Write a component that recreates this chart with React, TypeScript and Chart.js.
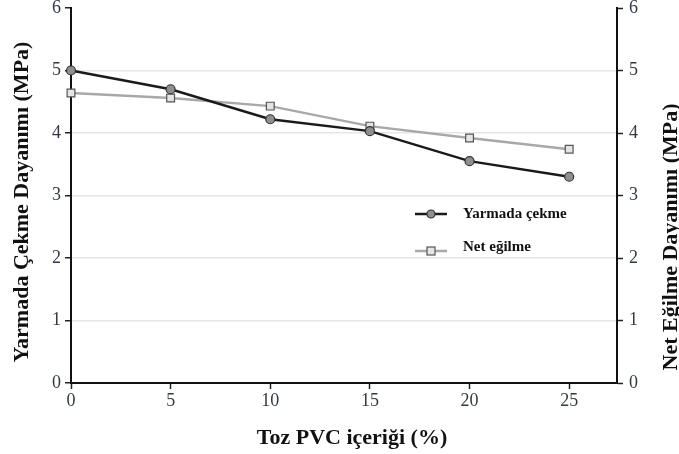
import React, { useEffect, useRef } from 'react';
import { Chart, registerables } from 'chart.js';
Chart.register(...registerables);

const pvcContent = [0, 5, 10, 15, 20, 25];
const splitTensile = [5.0, 4.7, 4.22, 4.03, 3.55, 3.3];
const flexural = [4.64, 4.56, 4.43, 4.11, 3.92, 3.74];
const xTicks = [0, 5, 10, 15, 20, 25];
const yMin = 0;
const yMax = 6;
const xMax = 27.4;
const seriesNames = ['Yarmada çekme', 'Net eğilme'];
const xTitle = 'Toz PVC içeriği (%)';
const yLeftTitle = 'Yarmada Çekme Dayanımı (MPa)';
const yRightTitle = 'Net Eğilme Dayanımı (MPa)';

const SERIF = "'Liberation Serif', 'Times New Roman', serif";
const TICK_COLOR = '#333a44';

const c1 = { line: '#1a1a1a', fill: '#8f8f8f', border: '#333333' };
const c2 = { line: '#a8a8a8', fill: '#e4e4e4', border: '#555555' };

const overlayPlugin = {
  id: 'overlay',
  afterDraw(chart: any) {
    const ctx = chart.ctx as CanvasRenderingContext2D;
    const area = chart.chartArea;
    ctx.save();
    ctx.fillStyle = '#111';
    ctx.font = `bold 22px ${SERIF}`;
    ctx.textAlign = 'center';
    ctx.textBaseline = 'middle';
    ctx.fillText(xTitle, 352, 438);
    ctx.save();
    ctx.translate(22, 202);
    ctx.rotate(-Math.PI / 2);
    ctx.fillText(yLeftTitle, 0, 0);
    ctx.restore();
    ctx.save();
    ctx.translate(671, 237);
    ctx.rotate(-Math.PI / 2);
    ctx.fillText(yRightTitle, 0, 0);
    ctx.restore();

    const lx = area.left + 344;
    const rows = [
      { y: 214, ty: 214, c: c1, shape: 'circle', name: seriesNames[0] },
      { y: 251, ty: 247, c: c2, shape: 'rect', name: seriesNames[1] },
    ];
    ctx.font = `bold 15px ${SERIF}`;
    ctx.textAlign = 'left';
    for (const r of rows) {
      ctx.strokeStyle = r.c.line;
      ctx.lineWidth = 2.5;
      ctx.beginPath();
      ctx.moveTo(lx, r.y);
      ctx.lineTo(lx + 32, r.y);
      ctx.stroke();
      ctx.fillStyle = r.c.fill;
      ctx.strokeStyle = r.c.border;
      ctx.lineWidth = 1.2;
      if (r.shape === 'circle') {
        ctx.beginPath();
        ctx.arc(lx + 16, r.y, 4, 0, Math.PI * 2);
        ctx.fill();
        ctx.stroke();
      } else {
        ctx.fillRect(lx + 12, r.y - 4, 8, 8);
        ctx.strokeRect(lx + 12, r.y - 4, 8, 8);
      }
      ctx.fillStyle = '#111';
      ctx.fillText(r.name, lx + 48, r.ty);
    }
    ctx.restore();
  },
};

const zeroPad = (s: any) => {
  s.paddingTop = 0;
  s.paddingBottom = 0;
  s.paddingLeft = 0;
  s.paddingRight = 0;
};

export default function App() {
  const ref = useRef<HTMLCanvasElement>(null);
  useEffect(() => {
    if (!ref.current) return;
    const gridColor = (c: any) =>
      c.tick && (c.tick.value === yMin || c.tick.value === yMax) ? 'rgba(0,0,0,0)' : '#e6e6e6';
    const chart = new Chart(ref.current, {
      type: 'line',
      data: {
        datasets: [
          {
            label: seriesNames[0],
            data: pvcContent.map((x, i) => ({ x, y: splitTensile[i] })),
            yAxisID: 'y',
            borderColor: c1.line,
            borderWidth: 2.5,
            backgroundColor: c1.fill,
            pointBackgroundColor: c1.fill,
            pointBorderColor: c1.border,
            pointBorderWidth: 1.2,
            pointRadius: 4.5,
            pointStyle: 'circle',
            tension: 0,
            clip: false,
          },
          {
            label: seriesNames[1],
            data: pvcContent.map((x, i) => ({ x, y: flexural[i] })),
            yAxisID: 'y1',
            borderColor: c2.line,
            borderWidth: 2.5,
            backgroundColor: c2.fill,
            pointBackgroundColor: c2.fill,
            pointBorderColor: c2.border,
            pointBorderWidth: 1.2,
            pointRadius: 5.5,
            pointStyle: 'rect',
            tension: 0,
            clip: false,
          },
        ],
      },
      options: {
        animation: false,
        responsive: true,
        maintainAspectRatio: false,
        layout: { padding: { top: 8, left: 0, right: 0, bottom: 0 } },
        plugins: { legend: { display: false }, tooltip: { enabled: false } },
        scales: {
          x: {
            type: 'linear',
            min: 0,
            max: xMax,
            afterBuildTicks: (s: any) => {
              s.ticks = xTicks.map((v) => ({ value: v }));
            },
            afterFit: (s: any) => {
              s.height = 71;
              zeroPad(s);
            },
            grid: { drawOnChartArea: false, tickColor: '#222', tickLength: 6, tickWidth: 1.5 },
            border: { color: '#111', width: 2 },
            ticks: { color: TICK_COLOR, font: { family: SERIF, size: 18 }, padding: 1, maxRotation: 0 },
          },
          y: {
            type: 'linear',
            position: 'left',
            min: yMin,
            max: yMax,
            afterFit: (s: any) => {
              s.width = 71;
              zeroPad(s);
            },
            grid: { color: gridColor, lineWidth: 1.5, tickColor: '#222', tickLength: 6, tickWidth: 1.5 },
            border: { color: '#111', width: 2 },
            ticks: { stepSize: 1, color: TICK_COLOR, font: { family: SERIF, size: 18 }, padding: 4 },
          },
          y1: {
            type: 'linear',
            position: 'right',
            min: yMin,
            max: yMax,
            afterFit: (s: any) => {
              s.width = 62;
              zeroPad(s);
            },
            grid: { drawOnChartArea: false, tickColor: '#222', tickLength: 6, tickWidth: 1.5 },
            border: { color: '#111', width: 2 },
            ticks: { stepSize: 1, color: TICK_COLOR, font: { family: SERIF, size: 18 }, padding: 6 },
          },
        },
      },
      plugins: [overlayPlugin],
    });
    return () => chart.destroy();
  }, []);
  return (
    <div style={{ position: 'absolute', left: 0, top: 0, width: 679, height: 454 }}>
      <canvas ref={ref} />
    </div>
  );
}
